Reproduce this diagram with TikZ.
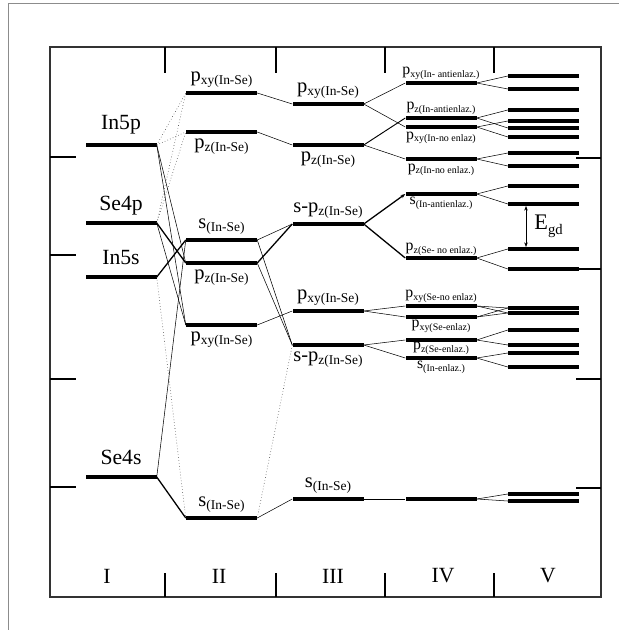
\documentclass[tikz,border=0pt]{standalone}
\usepackage{fontspec}
\setmainfont{Liberation Serif}
\usetikzlibrary{arrows.meta}

\newcommand{\orb}[3][11.5]{#2\raisebox{-2.5pt}{\fontsize{#1}{#1}\selectfont #3}}

\begin{document}
\begin{tikzpicture}[
    x = 0.3mm,
    y = -0.3mm,
    level/.style = {
      fill,
      inner sep = 0pt,
      minimum width = 21.3mm,
      minimum height = 1.05mm
    },
    atom/.style = {font=\fontsize{18.5}{18.5}\selectfont, inner sep=0pt},
    big/.style = {font=\fontsize{17.5}{17.5}\selectfont, inner sep=0pt},
    small/.style = {font=\fontsize{13.5}{13.5}\selectfont, inner sep=0pt},
    link/.style = {line width=0.45pt},
    bond/.style = {line width=1.1pt},
    virt/.style = {line width=0.5pt, dotted, black!75}
  ]
  \useasboundingbox (0,0) rectangle (619,630);

  % page edge and frame
  \draw[black!45, line width=0.6pt] (8,630) -- (8,3) -- (619,3);
  \draw[black!80, line width=0.9pt] (50,47) rectangle (601,597);

  \foreach \x in {165,276,385,494} {
    \draw[line width=1.6pt] (\x,47) -- (\x,73);
    \draw[line width=1.6pt] (\x,573) -- (\x,597);
  }
  \foreach \y in {157,255,379,487}
    \draw[line width=1.2pt] (50,\y) -- (76,\y);
  \foreach \y in {158,269,379,488}
    \draw[line width=1.2pt] (576,\y) -- (601,\y);

  \foreach \t/\x in {I/107,II/219,III/333,IV/443,V/548}
    \node[atom] (col\t) at (\x,576) {\t};

  % I: atomic levels
  \node[level, label={[atom, label distance=7pt]above:In5p}] (In5p) at (121,145) {};
  \node[level, label={[atom, label distance=5pt]above:Se4p}] (Se4p) at (121,223) {};
  \node[level, label={[atom, label distance=9pt]above:In5s}] (In5s) at (121,277) {};
  \node[level, label={[atom, label distance=9pt]above:Se4s}] (Se4s) at (121,477) {};

  % II: In-Se molecule
  \node[level, label={[big, label distance=3pt]above:\orb{p}{xy(In-Se)}}] (IIpxy) at (221.5,93) {};
  \node[level, label={[big, label distance=4pt]below:\orb{p}{z(In-Se)}}] (IIpz) at (221.5,132) {};
  \node[level, label={[big, label distance=3pt]above:\orb{s}{(In-Se)}}] (IIs) at (221.5,240) {};
  \node[level, label={[big, label distance=4pt]below:\orb{p}{z(In-Se)}}] (IIpzb) at (221.5,263) {};
  \node[level, label={[big, label distance=4pt]below:\orb{p}{xy(In-Se)}}] (IIpxyb) at (221.5,325) {};
  \node[level, label={[big, label distance=3pt]above:\orb{s}{(In-Se)}}] (IIsb) at (221.5,518) {};

  % III
  \node[level, label={[big, label distance=3pt]above:\orb{p}{xy(In-Se)}}] (IIIpxy) at (328,104) {};
  \node[level, label={[big, label distance=4pt]below:\orb{p}{z(In-Se)}}] (IIIpz) at (328,145) {};
  \node[level, label={[big, label distance=3pt]above:\orb{s-p}{z(In-Se)}}] (IIIspz) at (328,224) {};
  \node[level, label={[big, label distance=3pt]above:\orb{p}{xy(In-Se)}}] (IIIpxyb) at (328,311) {};
  \node[level, label={[big, label distance=4pt]below:\orb{s-p}{z(In-Se)}}] (IIIspzb) at (328,345) {};
  \node[level, label={[big, label distance=3pt]above:\orb{s}{(In-Se)}}] (IIIs) at (328,499) {};

  % IV
  \node[level, label={[small, label distance=1pt]above:\orb[8.5]{p}{xy(In- antienlaz.)}}] (IVpxyA) at (441,83) {};
  \node[level, label={[small, label distance=1pt]above:\orb[8.5]{p}{z(In-antienlaz.)}}] (IVpzA) at (441,118) {};
  \node[level, label={[small, label distance=2pt]below:\orb[8.5]{p}{xy(In-no enlaz)}}] (IVpxyN) at (441,127) {};
  \node[level, label={[small, label distance=2pt]below:\orb[8.5]{p}{z(In-no enlaz.)}}] (IVpzN) at (441,159) {};
  \node[level, label={[small, label distance=1pt]below:\orb[8.5]{s}{(In-antienlaz.)}}] (IVsA) at (441,194) {};
  \node[level, label={[small, label distance=0pt]above:\orb[8.5]{p}{z(Se- no enlaz.)}}] (IVpzSeN) at (441,258) {};
  \node[level, label={[small, label distance=1pt]above:\orb[8.5]{p}{xy(Se-no enlaz)}}] (IVpxySeN) at (441,306) {};
  \node[level, label={[small, label distance=1pt]below:\orb[8.5]{p}{xy(Se-enlaz)}}] (IVpxySe) at (441,317) {};
  \node[level, label={[small, label distance=0pt]below:\orb[8.5]{p}{z(Se-enlaz.)}}] (IVpzSe) at (441,340) {};
  \node[level, label={[small, label distance=1pt]below:\orb[8.5]{s}{(In-enlaz.)}}] (IVs) at (441,358) {};
  \node[level] (IVsb) at (441,499) {};

  % V: crystal bands
  \foreach \y [count=\i] in {76,89,110,121,128,137,153,166,186,204,
                             249,269,308,313,330,345,353,367,494,501}
    \node[level] (V\i) at (543.5,\y) {};

  % I -> II
  \foreach \a/\b in {In5p/IIpxy,In5p/IIpz,Se4p/IIpxy,Se4p/IIpz,In5s/IIsb}
    \draw[virt] (\a.east) -- (\b.west);
  \foreach \a/\b in {In5p/IIpzb,In5p/IIpxyb,Se4p/IIpxyb,Se4s/IIs}
    \draw[link] (\a.east) -- (\b.west);
  \foreach \a/\b in {Se4p/IIpzb,In5s/IIs,Se4s/IIsb}
    \draw[bond] (\a.east) -- (\b.west);

  % II -> III
  \foreach \a/\b in {IIpxy/IIIpxy,IIpz/IIIpz,IIs/IIIspz,IIs/IIIspzb,
                     IIpzb/IIIspzb,IIpxyb/IIIpxyb,IIsb/IIIs}
    \draw[link] (\a.east) -- (\b.west);
  \draw[bond] (IIpzb.east) -- (IIIspz.west);
  \draw[virt] (IIsb.east) -- (IIIspzb.west);

  % III -> IV
  \foreach \a/\b in {IIIpxy/IVpxyA,IIIpxy/IVpxyN,IIIpz/IVpzN,
                     IIIpxyb/IVpxySeN,IIIpxyb/IVpxySe,IIIspzb/IVpzSe,
                     IIIspzb/IVs,IIIs/IVsb}
    \draw[link] (\a.east) -- (\b.west);
  \draw[line width=0.8pt] (IIIpz.east) -- (IVpzA.west);
  \draw[bond, -{Stealth[length=4pt,width=3pt]}] (IIIspz.east) -- (IVsA.west);
  \draw[bond] (IIIspz.east) -- (IVpzSeN.west);

  % IV -> V
  \foreach \a/\b in {IVpxyA/1,IVpxyA/2,IVpzA/3,IVpzA/5,IVpxyN/4,IVpxyN/6,
                     IVpzN/7,IVpzN/8,IVsA/9,IVsA/10,IVpzSeN/11,IVpzSeN/12,
                     IVpxySeN/13,IVpxySeN/14,IVpxySe/13,IVpxySe/14,
                     IVpzSe/15,IVpzSe/16,IVs/17,IVs/18,IVsb/19,IVsb/20}
    \draw[link] (\a.east) -- (V\b.west);

  % gap
  \draw[link, {Stealth[length=4pt,width=3pt]}-{Stealth[length=4pt,width=3pt]}]
    ([xshift=-5.25mm]V10.south) -- ([xshift=-5.25mm]V11.north)
    node[midway, anchor=west, xshift=7pt, inner sep=0pt] (Egd)
    {\fontsize{19}{19}\selectfont E\raisebox{-4pt}{\fontsize{12.5}{12.5}\selectfont gd}};

\end{tikzpicture}
\end{document}
